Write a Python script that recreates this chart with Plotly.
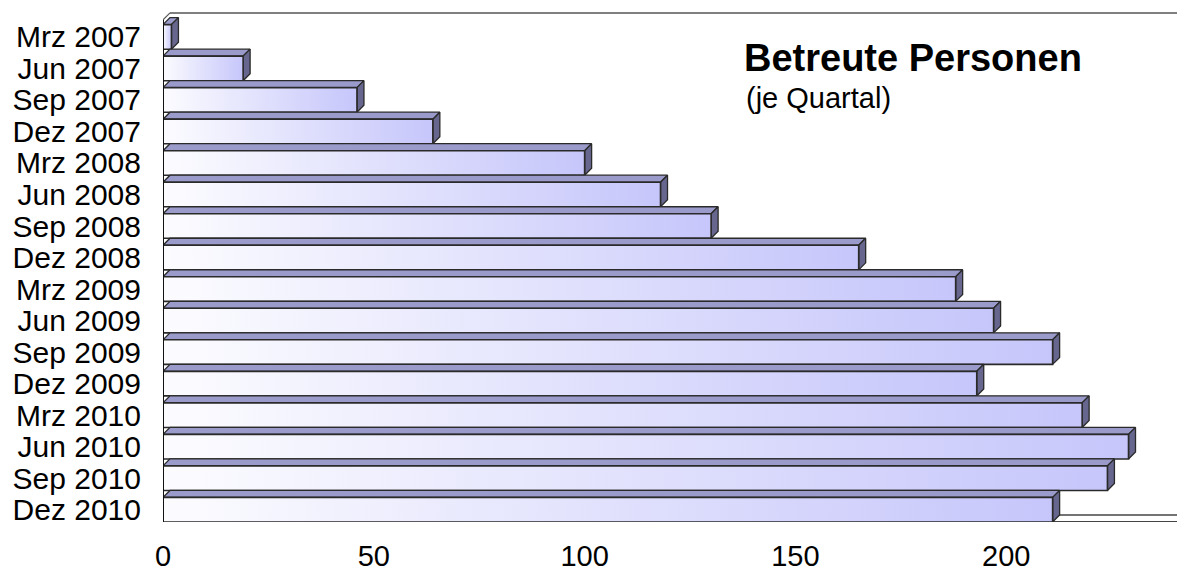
import plotly.graph_objects as go

categories = ["Mrz 2007", "Jun 2007", "Sep 2007", "Dez 2007",
              "Mrz 2008", "Jun 2008", "Sep 2008", "Dez 2008",
              "Mrz 2009", "Jun 2009", "Sep 2009", "Dez 2009",
              "Mrz 2010", "Jun 2010", "Sep 2010", "Dez 2010"]
values = [2, 19, 46, 64, 100, 118, 130, 165, 188, 197, 211, 193, 218, 229, 224, 211]
x_ticks = [0, 50, 100, 150, 200]

title_text = "Betreute Personen"
subtitle_text = "(je Quartal)"

FONT = "Liberation Sans, Arial, sans-serif"
X_MAX = 240.5
n = len(categories)
h = 0.39      # half height of the front face (category units)
dx = 1.66     # depth offset in value units
dy = 0.222    # depth offset in category units
Y_MIN = -h
Y_MAX = (n - 1) + 0.79

EDGE = "#2a2a2a"
TOP = "#9a9acb"
SIDE = "#66668e"

fig = go.Figure()

for i, (cat, v) in enumerate(zip(categories, values)):
    c = n - 1 - i
    yb, yt = c - h, c + h
    # top face
    fig.add_trace(go.Scatter(
        x=[0, v, v + dx, dx, 0], y=[yt, yt, yt + dy, yt + dy, yt],
        fill="toself", fillcolor=TOP, mode="lines",
        line=dict(color=EDGE, width=1.3), hoverinfo="skip"))
    # side face
    fig.add_trace(go.Scatter(
        x=[v, v + dx, v + dx, v, v], y=[yb, yb + dy, yt + dy, yt, yb],
        fill="toself", fillcolor=SIDE, mode="lines",
        line=dict(color=EDGE, width=1.3), hoverinfo="skip"))
    # front face with gradient
    fig.add_trace(go.Scatter(
        x=[0, v, v, 0, 0], y=[yb, yb, yt, yt, yb],
        fill="toself", mode="lines",
        fillgradient=dict(type="horizontal",
                          colorscale=[[0, "#fcfcff"], [1, "#c6c6fb"]]),
        line=dict(color=EDGE, width=1.6), name=cat,
        hovertemplate=f"{cat}: {v}<extra></extra>"))

shapes = [
    # back wall top edge
    dict(type="line", xref="x", yref="y", x0=dx, x1=X_MAX, y0=Y_MAX - 0.03, y1=Y_MAX - 0.03,
         line=dict(color="#555", width=1.5), layer="below"),
    # left front edge
    dict(type="line", xref="x", yref="y", x0=0, x1=0, y0=Y_MIN, y1=Y_MAX - 0.03 - dy,
         line=dict(color="#111", width=2), layer="above"),
    dict(type="line", xref="x", yref="y", x0=0, x1=dx, y0=Y_MAX - 0.03 - dy, y1=Y_MAX - 0.03,
         line=dict(color="#555", width=1.2), layer="below"),
    # floor
    dict(type="line", xref="x", yref="y", x0=0, x1=X_MAX, y0=Y_MIN + 0.01, y1=Y_MIN + 0.01,
         line=dict(color="#444", width=1.6), layer="below"),
    dict(type="line", xref="x", yref="y", x0=dx, x1=X_MAX, y0=Y_MIN + dy, y1=Y_MIN + dy,
         line=dict(color="#444", width=1.4), layer="below"),
]

fig.update_layout(
    width=1177, height=571,
    margin=dict(l=163, r=0, t=12, b=49),
    paper_bgcolor="white", plot_bgcolor="white",
    showlegend=False,
    font=dict(family=FONT, color="black"),
    shapes=shapes,
    xaxis=dict(range=[0, X_MAX], tickvals=x_ticks, showgrid=False, zeroline=False,
               showline=False, ticks="", automargin=False,
               tickfont=dict(size=29, family=FONT, color="black"),
               ticklabelstandoff=14),
    yaxis=dict(range=[Y_MIN, Y_MAX], tickvals=[n - 1 - i for i in range(n)],
               ticktext=categories, showgrid=False, zeroline=False,
               showline=False, ticks="", automargin=False,
               tickfont=dict(size=30, family=FONT, color="black"),
               ticklabelstandoff=21),
    annotations=[
        dict(text=f"<b>{title_text}</b>", xref="paper", yref="paper",
             x=0.571, y=0.91, xanchor="left", yanchor="middle", showarrow=False,
             font=dict(size=38, family=FONT, color="black")),
        dict(text=subtitle_text, xref="paper", yref="paper",
             x=0.573, y=0.831, xanchor="left", yanchor="middle", showarrow=False,
             font=dict(size=29, family=FONT, color="black")),
    ],
)

fig.write_html("out.html", config={"displayModeBar": False},
               post_script="document.body.style.margin='0';document.body.style.overflow='hidden';")
